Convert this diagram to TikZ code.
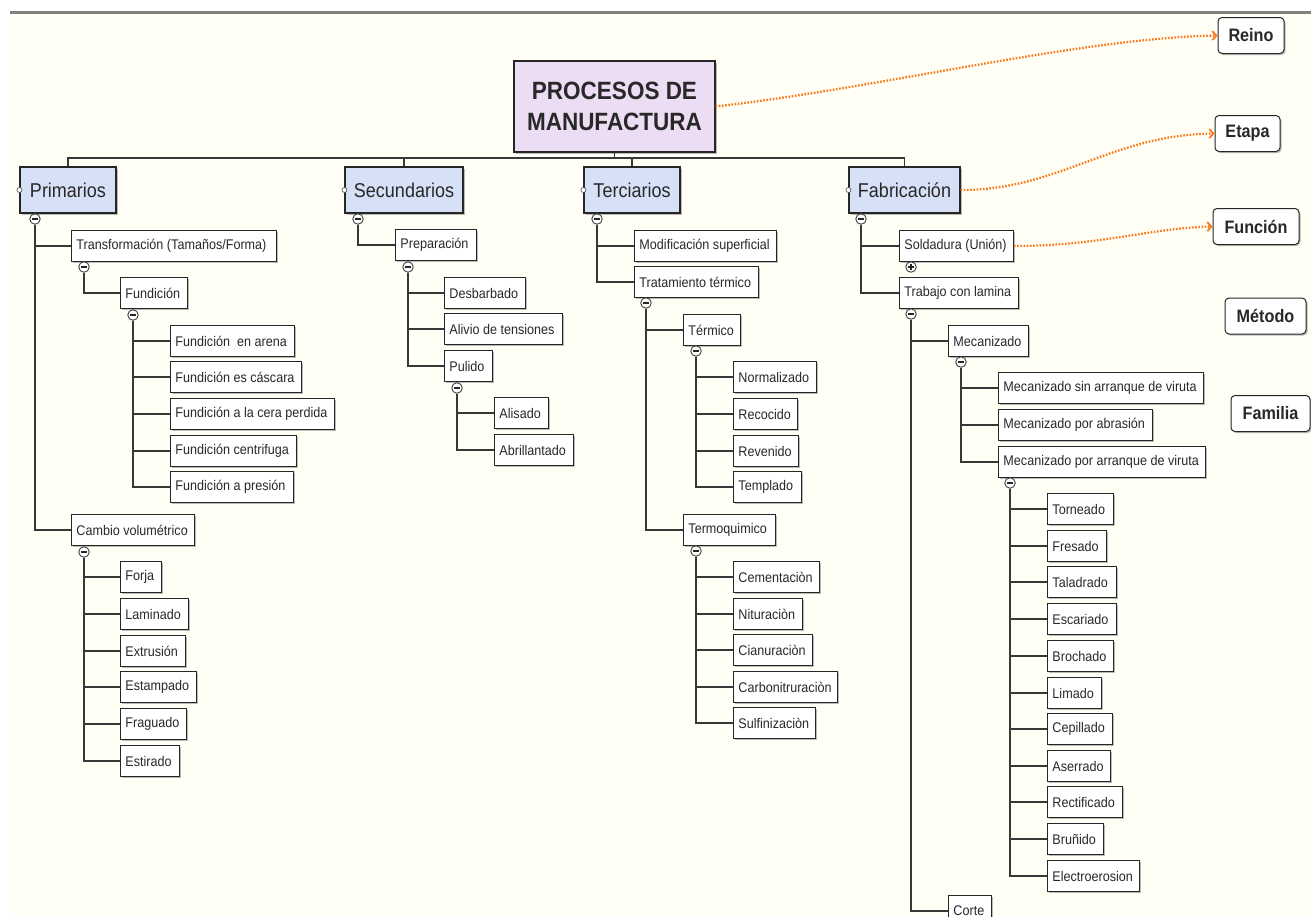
\documentclass[tikz,border=0pt]{standalone}
\usepackage{fontspec}
\setmainfont{Liberation Sans}[FakeStretch=0.9]
\usetikzlibrary{arrows.meta,shadows}
\definecolor{cream}{RGB}{255,255,246}
\definecolor{orng}{RGB}{250,120,25}
\definecolor{lblue}{RGB}{214,225,248}
\definecolor{lpurp}{RGB}{236,220,244}
\definecolor{ink}{RGB}{40,40,40}
\tikzset{
  boxshadow/.style={drop shadow={shadow xshift=1.5pt,shadow yshift=-1.5pt,fill=black!45,opacity=0.6}},
  leafbox/.style={draw=black!85, fill=white, line width=0.9pt, inner xsep=5pt, inner ysep=0pt,
    minimum height=31pt, anchor=west, text=ink, font=\fontsize{14}{16}\selectfont, boxshadow},
  topbox/.style={draw=black!85, fill=lblue, line width=1.1pt, minimum height=46pt, inner sep=0pt,
    text=ink, font=\fontsize{20}{22}\selectfont, boxshadow},
  rootbox/.style={draw=black!85, fill=lpurp, line width=1.2pt, minimum width=201pt, minimum height=91pt,
    inner sep=0pt, align=center, text=ink, font=\bfseries\fontsize{25}{31}\selectfont, boxshadow},
  legbox/.style={draw=black!85, fill=white, line width=1pt, rounded corners=4pt, minimum height=36pt,
    inner sep=0pt, text=ink, font=\bfseries\fontsize{18}{20}\selectfont, boxshadow},
  mcirc/.style={circle, draw=black!75, fill=white, line width=0.9pt, minimum size=10.5pt, inner sep=0pt,
    path picture={\draw[line width=1.1pt,black!85] ([xshift=-3pt]path picture bounding box.center) -- ([xshift=3pt]path picture bounding box.center);}},
  pcirc/.style={circle, draw=black!75, fill=white, line width=0.9pt, minimum size=10.5pt, inner sep=0pt,
    path picture={\draw[line width=1.1pt,black!85] ([xshift=-3pt]path picture bounding box.center) -- ([xshift=3pt]path picture bounding box.center)
      ([yshift=-3pt]path picture bounding box.center) -- ([yshift=3pt]path picture bounding box.center);}},
  port/.style={circle, draw=black!70, fill=white, line width=0.6pt, minimum size=5pt, inner sep=0pt},
  conn/.style={draw=black!78, line width=1.4pt},
  oarrow/.style={draw=orng, line width=2.3pt, dash pattern=on 1.6pt off 1.6pt,
    -{Straight Barb[length=4pt,width=9pt,line width=1.8pt]}},
}
\newcommand\mkleaf[5]{\node[leafbox] (#1) at (#2,#4) {\makebox[\dimexpr #3pt-#2pt-10pt\relax][l]{#5}};}
\newcommand\mkminus[3]{\node[mcirc] (#1) at (#2,#3) {};}
\begin{document}
\begin{tikzpicture}[x=1pt,y=-1pt]
\useasboundingbox (0,0) rectangle (1311,916);
\clip (0,0) rectangle (1311,916);
\fill[white] (0,0) rectangle (1311,916);
\fill[cream] (10,13) rectangle (1311,916);
\draw[line width=3pt, black!50] (10,12) -- (1311,12);

% root and level 1
\node[rootbox] (root) at (614.5,106.5) {PROCESOS DE\\MANUFACTURA};
\node[topbox, minimum width=96pt] (prim) at (68,190) {Primarios};
\node[topbox, minimum width=118pt] (sec) at (404,190) {Secundarios};
\node[topbox, minimum width=96pt] (ter) at (632,190) {Terciarios};
\node[topbox, minimum width=111pt] (fab) at (904.5,190) {Fabricación};
\node[port] (primL) at (prim.west) {};
\node[port] (secL) at (sec.west) {};
\node[port] (terL) at (ter.west) {};
\node[port] (fabL) at (fab.west) {};
\coordinate (bus) at (0,158);
\draw[conn] (root.south) -- (root.south |- bus);
\draw[conn] (prim.north) -- (prim.north |- bus) -- (fab.north |- bus) -- (fab.north);
\draw[conn] (sec.north) -- (sec.north |- bus);
\draw[conn] (ter.north) -- (ter.north |- bus);

% legend
\node[legbox, minimum width=66pt] (reino) at (1251,35.5) {Reino};
\node[legbox, minimum width=65pt] (etapa) at (1247.5,133.5) {Etapa};
\node[legbox, minimum width=86pt] (funcion) at (1256,226.5) {Función};
\node[legbox, minimum width=81pt] (metodo) at (1265.5,316) {Método};
\node[legbox, minimum width=79pt] (familia) at (1270.5,413.5) {Familia};

% Primarios subtree
\mkleaf{trans}{71}{276}{246}{Transformación (Tamaños/Forma)}
\mkleaf{fund}{120}{187}{293}{Fundición}
\mkleaf{fa}{170}{294}{341}{Fundición \ en arena}
\mkleaf{fb}{170}{301}{377}{Fundición es cáscara}
\mkleaf{fc}{170}{334}{414}{Fundición a la cera perdida}
\mkleaf{fd}{170}{296}{451}{Fundición centrifuga}
\mkleaf{fe}{170}{293}{487}{Fundición a presión}
\mkleaf{cambio}{71}{194}{530}{Cambio volumétrico}
\mkleaf{ca}{120}{161}{577}{Forja}
\mkleaf{cb}{120}{188}{614}{Laminado}
\mkleaf{cc}{120}{185}{651}{Extrusión}
\mkleaf{cd}{120}{196}{687}{Estampado}
\mkleaf{ce}{120}{186}{724}{Fraguado}
\mkleaf{cf}{120}{179}{761}{Estirado}
\mkminus{mPrim}{35}{219}
\mkminus{mTrans}{84}{267}
\mkminus{mFund}{133}{315}
\mkminus{mCambio}{84}{552}
\draw[conn] (mPrim.south) |- (trans.west);
\draw[conn] (mPrim.south) |- (cambio.west);
\draw[conn] (mTrans.south) |- (fund.west);
\foreach \n in {fa,fb,fc,fd,fe} \draw[conn] (mFund.south) |- (\n.west);
\foreach \n in {ca,cb,cc,cd,ce,cf} \draw[conn] (mCambio.south) |- (\n.west);

% Secundarios subtree
\mkleaf{prep}{395}{476}{245}{Preparación}
\mkleaf{sa}{444}{525}{293}{Desbarbado}
\mkleaf{sb}{444}{562}{329}{Alivio de tensiones}
\mkleaf{pul}{444}{492}{366}{Pulido}
\mkleaf{pa}{494}{548}{413}{Alisado}
\mkleaf{pb}{494}{573}{450}{Abrillantado}
\mkminus{mSec}{358}{219}
\mkminus{mPrep}{408}{267}
\mkminus{mPul}{457}{388}
\draw[conn] (mSec.south) |- (prep.west);
\foreach \n in {sa,sb,pul} \draw[conn] (mPrep.south) |- (\n.west);
\foreach \n in {pa,pb} \draw[conn] (mPul.south) |- (\n.west);

% Terciarios subtree
\mkleaf{modi}{634}{776}{246}{Modificación superficial}
\mkleaf{trat}{634}{758}{282}{Tratamiento térmico}
\mkleaf{term}{683}{740}{330}{Térmico}
\mkleaf{ta}{733}{816}{377}{Normalizado}
\mkleaf{tb}{733}{797}{414}{Recocido}
\mkleaf{tc}{733}{798}{451}{Revenido}
\mkleaf{td}{733}{801}{487}{Templado}
\mkleaf{termo}{683}{775}{530}{Termoquimico}
\mkleaf{qa}{733}{819}{577}{Cementaciòn}
\mkleaf{qb}{733}{802}{614}{Nituraciòn}
\mkleaf{qc}{733}{812}{650}{Cianuraciòn}
\mkleaf{qd}{733}{837}{687}{Carbonitruraciòn}
\mkleaf{qe}{733}{815}{723}{Sulfinizaciòn}
\mkminus{mTer}{597}{219}
\mkminus{mTrat}{646}{303}
\mkminus{mTerm}{696}{351}
\mkminus{mTermo}{696}{551}
\draw[conn] (mTer.south) |- (modi.west);
\draw[conn] (mTer.south) |- (trat.west);
\draw[conn] (mTrat.south) |- (term.west);
\draw[conn] (mTrat.south) |- (termo.west);
\foreach \n in {ta,tb,tc,td} \draw[conn] (mTerm.south) |- (\n.west);
\foreach \n in {qa,qb,qc,qd,qe} \draw[conn] (mTermo.south) |- (\n.west);

% Fabricacion subtree
\mkleaf{sold}{899}{1013}{246}{Soldadura (Unión)}
\mkleaf{trab}{899}{1018}{293}{Trabajo con lamina}
\mkleaf{mec}{948}{1028}{341}{Mecanizado}
\mkleaf{ma}{998}{1203}{388}{Mecanizado sin arranque de viruta}
\mkleaf{mb}{998}{1152}{425}{Mecanizado por abrasión}
\mkleaf{mcv}{998}{1205}{462}{Mecanizado por arranque de viruta}
\mkleaf{va}{1047}{1113}{509}{Torneado}
\mkleaf{vb}{1047}{1106}{546}{Fresado}
\mkleaf{vc}{1047}{1116}{582}{Taladrado}
\mkleaf{vd}{1047}{1116}{619}{Escariado}
\mkleaf{ve}{1047}{1113}{656}{Brochado}
\mkleaf{vf}{1047}{1101}{693}{Limado}
\mkleaf{vg}{1047}{1112}{729}{Cepillado}
\mkleaf{vh}{1047}{1110}{766}{Aserrado}
\mkleaf{vi}{1047}{1122}{802}{Rectificado}
\mkleaf{vj}{1047}{1103}{839}{Bruñido}
\mkleaf{vk}{1047}{1139}{876}{Electroerosion}
\mkleaf{corte}{948}{991}{911}{Corte}
\mkminus{mFab}{861}{219}
\node[pcirc] (pSold) at (911,267) {};
\mkminus{mTrab}{911}{314}
\mkminus{mMec}{961}{362}
\mkminus{mMcv}{1010}{483}
\draw[conn] (mFab.south) |- (sold.west);
\draw[conn] (mFab.south) |- (trab.west);
\draw[conn] (mTrab.south) |- (mec.west);
\draw[conn] (mTrab.south) |- (corte.west);
\foreach \n in {ma,mb,mcv} \draw[conn] (mMec.south) |- (\n.west);
\foreach \n in {va,vb,vc,vd,ve,vf,vg,vh,vi,vj,vk} \draw[conn] (mMcv.south) |- (\n.west);

% orange links
\draw[oarrow] (root.east) .. controls (880,88) and (1080,38) .. (reino.west);
\draw[oarrow] (fab.east) .. controls (1060,190) and (1110,135) .. (etapa.west);
\draw[oarrow] (sold.east) .. controls (1100,246) and (1150,228) .. (funcion.west);
\end{tikzpicture}
\end{document}
